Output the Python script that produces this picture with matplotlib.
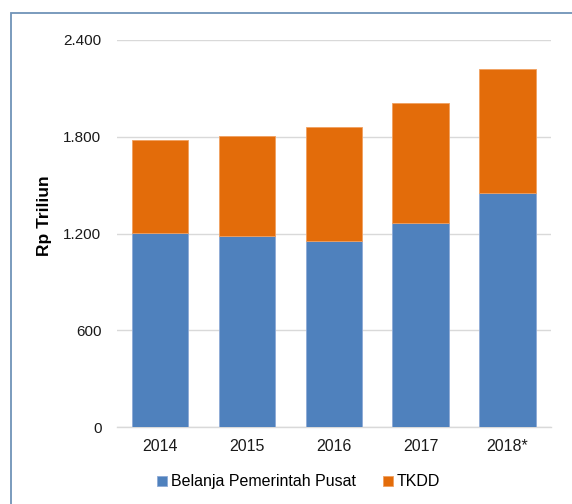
import matplotlib.pyplot as plt
from matplotlib.patches import Rectangle
from matplotlib.ticker import FuncFormatter

# --- Data (Rp Triliun) ---
YEARS = ["2014", "2015", "2016", "2017", "2018*"]
BELANJA_PUSAT = [1201, 1186, 1154, 1264, 1453]
TKDD = [576, 621, 709, 742, 764]

BLUE = "#4f81bd"
ORANGE = "#e36c0a"

plt.rcParams.update({
    'font.family': ['Liberation Sans', 'DejaVu Sans'],
    'font.size': 11.5,
})


def thousands(v, pos):
    return f"{int(v):,}".replace(",", ".")


def plot_chart():
    fig = plt.figure(figsize=(5.72, 5.04), dpi=100)
    ax = fig.add_axes([0.204, 0.152, 0.759, 0.769])

    x = range(len(YEARS))
    ax.bar(x, BELANJA_PUSAT, width=0.65, color=BLUE, edgecolor="#8eaad6",
           linewidth=0.6, label="Belanja Pemerintah Pusat", zorder=3)
    ax.bar(x, TKDD, bottom=BELANJA_PUSAT, width=0.65, color=ORANGE,
           edgecolor="#f0a060", linewidth=0.6, label="TKDD", zorder=3)

    ax.set_xlim(-0.5, len(YEARS) - 0.5)
    ax.set_ylim(0, 2400)
    ax.set_yticks([0, 600, 1200, 1800, 2400])
    ax.yaxis.set_major_formatter(FuncFormatter(thousands))
    ax.set_xticks(list(x))
    ax.set_xticklabels(YEARS)

    ax.grid(axis='y', color='#d9d9d9', linewidth=1.0, zorder=0)
    for side in ['top', 'right', 'left']:
        ax.spines[side].set_visible(False)
    ax.spines['bottom'].set_color('#d9d9d9')
    ax.spines['bottom'].set_linewidth(1.0)
    ax.tick_params(axis='both', length=0, labelcolor='#1a1a1a')
    ax.tick_params(axis='y', pad=11, labelsize=11)
    ax.tick_params(axis='x', pad=8, labelsize=11.5)

    ax.set_ylabel("Rp Triliun", fontweight='bold', fontsize=12.5, labelpad=0)
    ax.yaxis.set_label_coords(-0.149, 0.545)

    ax.legend(loc='center', bbox_to_anchor=(0.522, 0.044),
              bbox_transform=fig.transFigure, ncol=2, frameon=False,
              handlelength=0.6, handleheight=0.6, handletextpad=0.25,
              columnspacing=1.7, fontsize=11.5)

    # outer chart frame
    fig.add_artist(Rectangle((10.5 / 572, -0.1), 1.2, (504 - 13) / 504 + 0.1,
                             transform=fig.transFigure, fill=False,
                             edgecolor='#6f93b8', linewidth=1.3, clip_on=False))

    fig.savefig("out.png", dpi=100)
    plt.close(fig)


if __name__ == "__main__":
    plot_chart()
